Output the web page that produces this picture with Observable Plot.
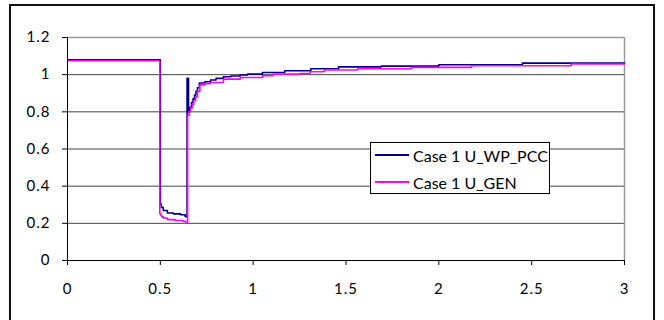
<!DOCTYPE html>
<html><head><meta charset="utf-8">
<script src="https://cdn.jsdelivr.net/npm/d3@7"></script>
<script src="https://cdn.jsdelivr.net/npm/@observablehq/plot@0.6"></script>
<style>
body{margin:0;background:#fff;}
#wrap{position:relative;width:664px;height:320px;overflow:hidden;font-family:Lato,sans-serif;background:#fff;}
#outer{position:absolute;left:9px;top:4px;width:646px;height:340px;border:2px solid #111;box-sizing:border-box;pointer-events:none;}
#legend{position:absolute;left:370px;top:142px;width:180px;height:52px;border:1px solid #000;background:#fff;box-sizing:border-box;font-size:16px;color:#000;}
.row{position:absolute;left:0;height:20px;display:flex;align-items:center;}
.sw{width:34px;height:2px;margin-left:4px;margin-right:4px;}
svg text{letter-spacing:1px;}
</style>
</head><body>
<div id="wrap"><div id="chart"></div><div id="legend"></div><div id="outer"></div></div>
<script>
const seriesNames = ["Case 1 U_WP_PCC", "Case 1 U_GEN"];
const seriesColors = ["#000080", "#FF00FF"];

const pccTime  = [0, 0.5, 0.505, 0.516, 0.538, 0.57, 0.608, 0.634, 0.644, 0.652, 0.66, 0.668, 0.676, 0.684, 0.692, 0.70, 0.71, 0.74, 0.77, 0.80, 0.84, 0.88, 0.93, 0.97, 1.05, 1.17, 1.31, 1.46, 1.69, 2.0, 2.45, 3.0];
const pccValue = [1.08, 0.305, 0.286, 0.269, 0.256, 0.251, 0.246, 0.236, 0.98, 0.80, 0.825, 0.85, 0.87, 0.89, 0.91, 0.93, 0.955, 0.962, 0.971, 0.98, 0.989, 0.993, 0.998, 1.003, 1.012, 1.021, 1.032, 1.042, 1.046, 1.053, 1.062, 1.062];

const genTime  = [0, 0.497, 0.503, 0.508, 0.516, 0.538, 0.58, 0.62, 0.637, 0.647, 0.655, 0.663, 0.672, 0.68, 0.69, 0.70, 0.713, 0.74, 0.77, 0.84, 0.93, 1.05, 1.107, 1.252, 1.306, 1.382, 1.563, 1.853, 2.176, 2.713, 3.0];
const genValue = [1.075, 0.251, 0.242, 0.235, 0.229, 0.22, 0.215, 0.211, 0.202, 0.78, 0.80, 0.82, 0.84, 0.86, 0.88, 0.91, 0.945, 0.952, 0.958, 0.976, 0.985, 0.994, 1.003, 1.006, 1.016, 1.025, 1.032, 1.039, 1.048, 1.057, 1.057];

const xTicks = [0, 0.5, 1, 1.5, 2, 2.5, 3];
const xTickLabels = ["0", "0.5", "1", "1.5", "2", "2.5", "3"];
const yTicks = [0, 0.2, 0.4, 0.6, 0.8, 1.0, 1.2];
const yTickLabels = ["0", "0.2", "0.4", "0.6", "0.8", "1", "1.2"];
const yGrid = [0.2, 0.4, 0.6, 0.8, 1.0];

const pcc = pccTime.map((t, i) => ({t, v: pccValue[i], s: seriesNames[0]}));
const gen = genTime.map((t, i) => ({t, v: genValue[i], s: seriesNames[1]}));

const chart = Plot.plot({
  width: 664, height: 320,
  marginLeft: 67, marginRight: 40, marginTop: 37, marginBottom: 60,
  x: {domain: [0, 3]},
  y: {domain: [0, 1.2]},
  style: {background: "transparent", fontFamily: "Lato, sans-serif", fontSize: "15px", color: "#000"},
  marks: [
    Plot.ruleY(yGrid, {stroke: "#444", strokeWidth: 1}),
    Plot.ruleY([1.2], {stroke: "#999", strokeWidth: 1.5}),
    Plot.ruleX([3], {stroke: "#999", strokeWidth: 1.5}),
    Plot.line(pcc, {x: "t", y: "v", stroke: seriesColors[0], strokeWidth: 1.6, curve: "step-after"}),
    Plot.line(gen, {x: "t", y: "v", stroke: seriesColors[1], strokeWidth: 1.6, curve: "step-after"}),
    Plot.ruleX([0], {stroke: "#000", strokeWidth: 1}),
    Plot.ruleY([0], {stroke: "#000", strokeWidth: 1}),
    Plot.axisY({ticks: yTicks, tickFormat: (d) => yTickLabels[yTicks.indexOf(d)], tickSize: 5, tickPadding: 12, label: null, anchor: "left"}),
    Plot.axisX({ticks: xTicks, tickFormat: (d) => xTickLabels[xTicks.indexOf(d)], tickSize: 5, tickPadding: 18, label: null, anchor: "bottom"})
  ]
});
document.getElementById("chart").appendChild(chart);

const legend = document.getElementById("legend");
const rowTops = [2, 29];
seriesNames.forEach((name, i) => {
  const row = document.createElement("div");
  row.className = "row";
  row.style.top = rowTops[i] + "px";
  const sw = document.createElement("div");
  sw.className = "sw";
  sw.style.background = seriesColors[i];
  const tx = document.createElement("span");
  tx.textContent = name;
  row.appendChild(sw);
  row.appendChild(tx);
  legend.appendChild(row);
});
</script>
</body></html>
